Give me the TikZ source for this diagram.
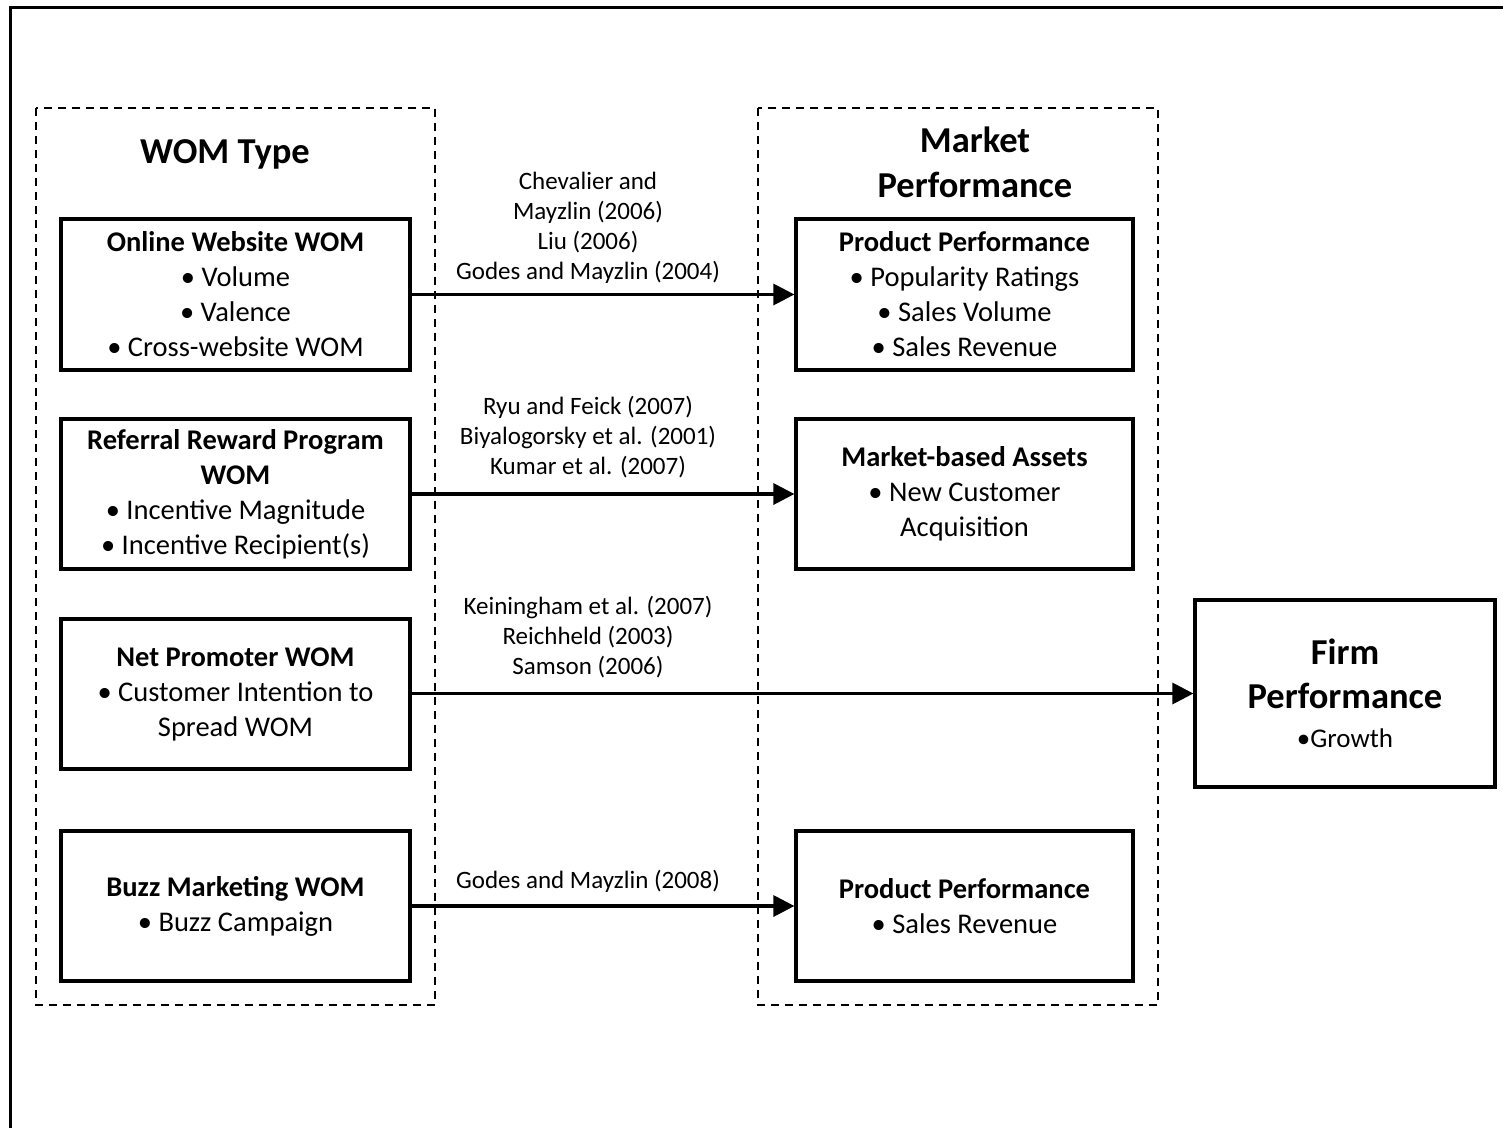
\documentclass[tikz,border=0pt]{standalone}
\usepackage{fontspec}
\setmainfont{Carlito}
\usetikzlibrary{arrows.meta}
\tikzset{
  solidbox/.style={draw, line width=3.2pt, align=center, inner sep=0pt,
    font=\fontsize{28.5}{35}\selectfont},
  groupbox/.style={draw, line width=1.5pt, dash pattern=on 8pt off 6pt},
  heading/.style={font=\fontsize{36.5}{45}\selectfont\bfseries, align=center},
  cite/.style={font=\fontsize{25}{30}\selectfont, align=center, inner sep=0pt},
  link/.style={line width=3.2pt, -{Triangle[length=21pt,width=21pt]}}
}
\begin{document}
\begin{tikzpicture}[x=1pt,y=-1pt]
\useasboundingbox (0,0) rectangle (1503,1127);
\clip (0,0) rectangle (1503,1127);
% outer frame
\draw[line width=3pt] (10,7) rectangle (1530,1150);

% dashed groups
\draw[groupbox] (36,108) rectangle (435,1005);
\draw[groupbox] (758,108) rectangle (1158,1005);
\node[heading] (womtitle) at (225,154) {WOM Type};
\node[heading] (mkttitle) at (975,162) {Market\\Performance};

% WOM types
\node[solidbox, minimum width=349pt, minimum height=151pt] (online) at (235.5,294.5)
  {\textbf{Online Website WOM}\\• Volume\\• Valence\\• Cross-website WOM};
\node[solidbox, minimum width=349pt, minimum height=150pt] (referral) at (235.5,494)
  {\textbf{Referral Reward Program}\\\textbf{WOM}\\• Incentive Magnitude\\• Incentive Recipient(s)};
\node[solidbox, minimum width=349pt, minimum height=150pt] (promoter) at (235.5,694)
  {\textbf{Net Promoter WOM}\\• Customer Intention to\\Spread WOM};
\node[solidbox, minimum width=349pt, minimum height=150pt] (buzz) at (235.5,906)
  {\textbf{Buzz Marketing WOM}\\• Buzz Campaign};

% market performance
\node[solidbox, minimum width=337pt, minimum height=151pt] (prod1) at (964.5,294.5)
  {\textbf{Product Performance}\\• Popularity Ratings\\• Sales Volume\\• Sales Revenue};
\node[solidbox, minimum width=337pt, minimum height=150pt] (assets) at (964.5,494)
  {\textbf{Market-based Assets}\\• New Customer\\Acquisition};
\node[solidbox, minimum width=337pt, minimum height=150pt] (prod2) at (964.5,906)
  {\textbf{Product Performance}\\• Sales Revenue};

% firm performance
\node[solidbox, minimum width=300pt, minimum height=187pt,
  font=\fontsize{36.5}{44}\selectfont\bfseries] (firm) at (1345,693.5)
  {Firm\\Performance\\[-5pt]\mdseries\fontsize{27}{31}\selectfont •Growth};

% links
\draw[link] (online.east) -- (prod1.west);
\draw[link] (referral.east) -- (assets.west);
\draw[link] (promoter.east |- firm.west) -- (firm.west);
\draw[link] (buzz.east) -- (prod2.west);

% citations
\node[cite, anchor=south] (c1) at (588,284)
  {Chevalier and\\Mayzlin (2006)\\Liu (2006)\\Godes and Mayzlin (2004)};
\node[cite, anchor=south] (c2) at (588,478)
  {Ryu and Feick (2007)\\Biyalogorsky et al. (2001)\\Kumar et al. (2007)};
\node[cite, anchor=south] (c3) at (588,678)
  {Keiningham et al. (2007)\\Reichheld (2003)\\Samson (2006)};
\node[cite, anchor=south] (c4) at (588,893) {Godes and Mayzlin (2008)};
\end{tikzpicture}
\end{document}
